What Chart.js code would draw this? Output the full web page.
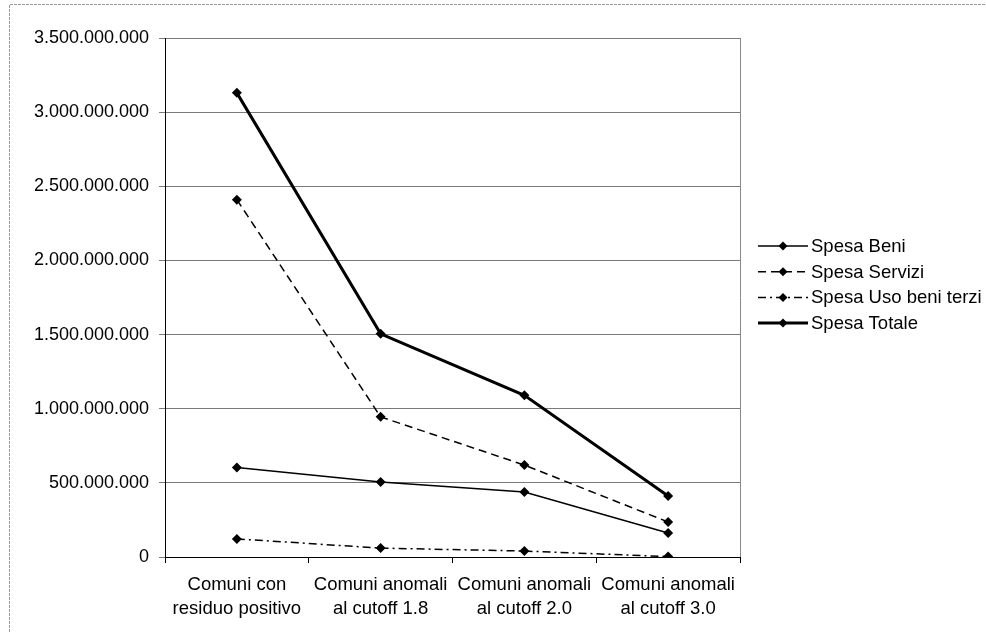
<!DOCTYPE html>
<html>
<head>
<meta charset="utf-8">
<script src="https://cdn.jsdelivr.net/npm/chart.js@4.4.1/dist/chart.umd.min.js"></script>
<style>
  html, body { margin: 0; padding: 0; background: #fff; }
  #wrap { width: 986px; height: 632px; position: relative; }
</style>
</head>
<body>
<div id="wrap"><canvas id="chart" width="986" height="632"></canvas></div>
<script>
const categories = [
    ['Comuni con', 'residuo positivo'],
    ['Comuni anomali', 'al cutoff 1.8'],
    ['Comuni anomali', 'al cutoff 2.0'],
    ['Comuni anomali', 'al cutoff 3.0']
];
const seriesNames = ['Spesa Beni', 'Spesa Servizi', 'Spesa Uso beni terzi', 'Spesa Totale'];
const spesaBeni = [603000000, 505000000, 438000000, 162000000];
const spesaServizi = [2410000000, 945000000, 620000000, 236000000];
const spesaUsoBeniTerzi = [122000000, 60000000, 40000000, 3000000];
const spesaTotale = [3130000000, 1505000000, 1090000000, 411000000];
const yTicks = [0, 500000000, 1000000000, 1500000000, 2000000000, 2500000000, 3000000000, 3500000000];

const FONT = 'Liberation Sans, Arial, sans-serif';

function fmt(v){
    return String(Math.round(v)).replace(/\B(?=(\d{3})+(?!\d))/g, '.');
}

function ds(label, data, width, dash){
    return {
        label: label,
        data: data,
        borderColor: '#000',
        backgroundColor: '#000',
        borderWidth: width,
        borderDash: dash,
        pointStyle: 'rectRot',
        pointRadius: 5,
        pointBorderWidth: 0,
        pointBackgroundColor: '#000',
        tension: 0,
        fill: false
    };
}

// legend drawn by hand so the dashes and diamonds look like the original
const sideLegend = {
    id: 'sideLegend',
    afterDraw(chart){
        const ctx = chart.ctx;
        const x0 = 758, x1 = 808, yStart = 246, step = 25.7;
        ctx.save();
        ctx.font = '18.5px ' + FONT;
        ctx.textBaseline = 'middle';
        ctx.fillStyle = '#000';
        chart.data.datasets.forEach((d, i) => {
            const y = yStart + i * step;
            ctx.beginPath();
            ctx.strokeStyle = '#000';
            ctx.lineWidth = d.borderWidth;
            ctx.setLineDash(d.borderDash || []);
            ctx.moveTo(x0, y);
            ctx.lineTo(x1, y);
            ctx.stroke();
            ctx.setLineDash([]);
            const cx = (x0 + x1) / 2, r = 4.5;
            ctx.beginPath();
            ctx.moveTo(cx, y - r); ctx.lineTo(cx + r, y); ctx.lineTo(cx, y + r); ctx.lineTo(cx - r, y);
            ctx.closePath();
            ctx.fill();
            ctx.fillText(d.label, x1 + 3, y + 1);
        });
        ctx.restore();
    }
};

// outer frame and plot border
const frame = {
    id: 'frame',
    beforeDraw(chart){
        const ctx = chart.ctx;
        ctx.save();
        ctx.strokeStyle = '#9a9a9a';
        ctx.lineWidth = 1;
        ctx.setLineDash([3, 1]);
        ctx.beginPath();
        ctx.moveTo(9.5, 632);
        ctx.lineTo(9.5, 4.5);
        ctx.lineTo(986, 4.5);
        ctx.stroke();
        ctx.restore();
    },
    afterDatasetsDraw(chart){
        const a = chart.chartArea;
        const ctx = chart.ctx;
        ctx.save();
        ctx.strokeStyle = '#888';
        ctx.lineWidth = 1;
        ctx.beginPath();
        ctx.moveTo(Math.round(a.right) + 0.5, a.top);
        ctx.lineTo(Math.round(a.right) + 0.5, a.bottom);
        ctx.stroke();
        ctx.restore();
    }
};

new Chart(document.getElementById('chart'), {
    type: 'line',
    data: {
        labels: categories,
        datasets: [
            ds(seriesNames[0], spesaBeni, 1.5, []),
            ds(seriesNames[1], spesaServizi, 1.5, [8, 5]),
            ds(seriesNames[2], spesaUsoBeniTerzi, 1.5, [8, 4, 2, 4]),
            ds(seriesNames[3], spesaTotale, 3, [])
        ]
    },
    options: {
        responsive: false,
        animation: false,
        devicePixelRatio: 1,
        layout: { padding: { left: 0, right: 246, top: 38, bottom: 0 } },
        plugins: {
            legend: { display: false },
            tooltip: { enabled: false }
        },
        scales: {
            x: {
                offset: true,
                grid: {
                    offset: true,
                    drawOnChartArea: false,
                    drawTicks: true,
                    tickLength: 6,
                    color: '#000'
                },
                border: { color: '#000', width: 1 },
                ticks: {
                    color: '#000',
                    font: { family: FONT, size: 18.5, lineHeight: 1.3 },
                    padding: 10,
                    maxRotation: 0
                },
                afterFit(scale){ scale.height = 75; }
            },
            y: {
                min: 0,
                max: 3500000000,
                afterBuildTicks(scale){ scale.ticks = yTicks.map(v => ({ value: v })); },
                grid: {
                    color: '#7a7a7a',
                    lineWidth: 1,
                    tickLength: 6
                },
                border: { color: '#000', width: 1 },
                ticks: {
                    color: '#000',
                    font: { family: FONT, size: 18 },
                    padding: 10,
                    callback: v => fmt(v)
                },
                afterFit(scale){ scale.width = 165; }
            }
        }
    },
    plugins: [frame, sideLegend]
});
</script>
</body>
</html>
